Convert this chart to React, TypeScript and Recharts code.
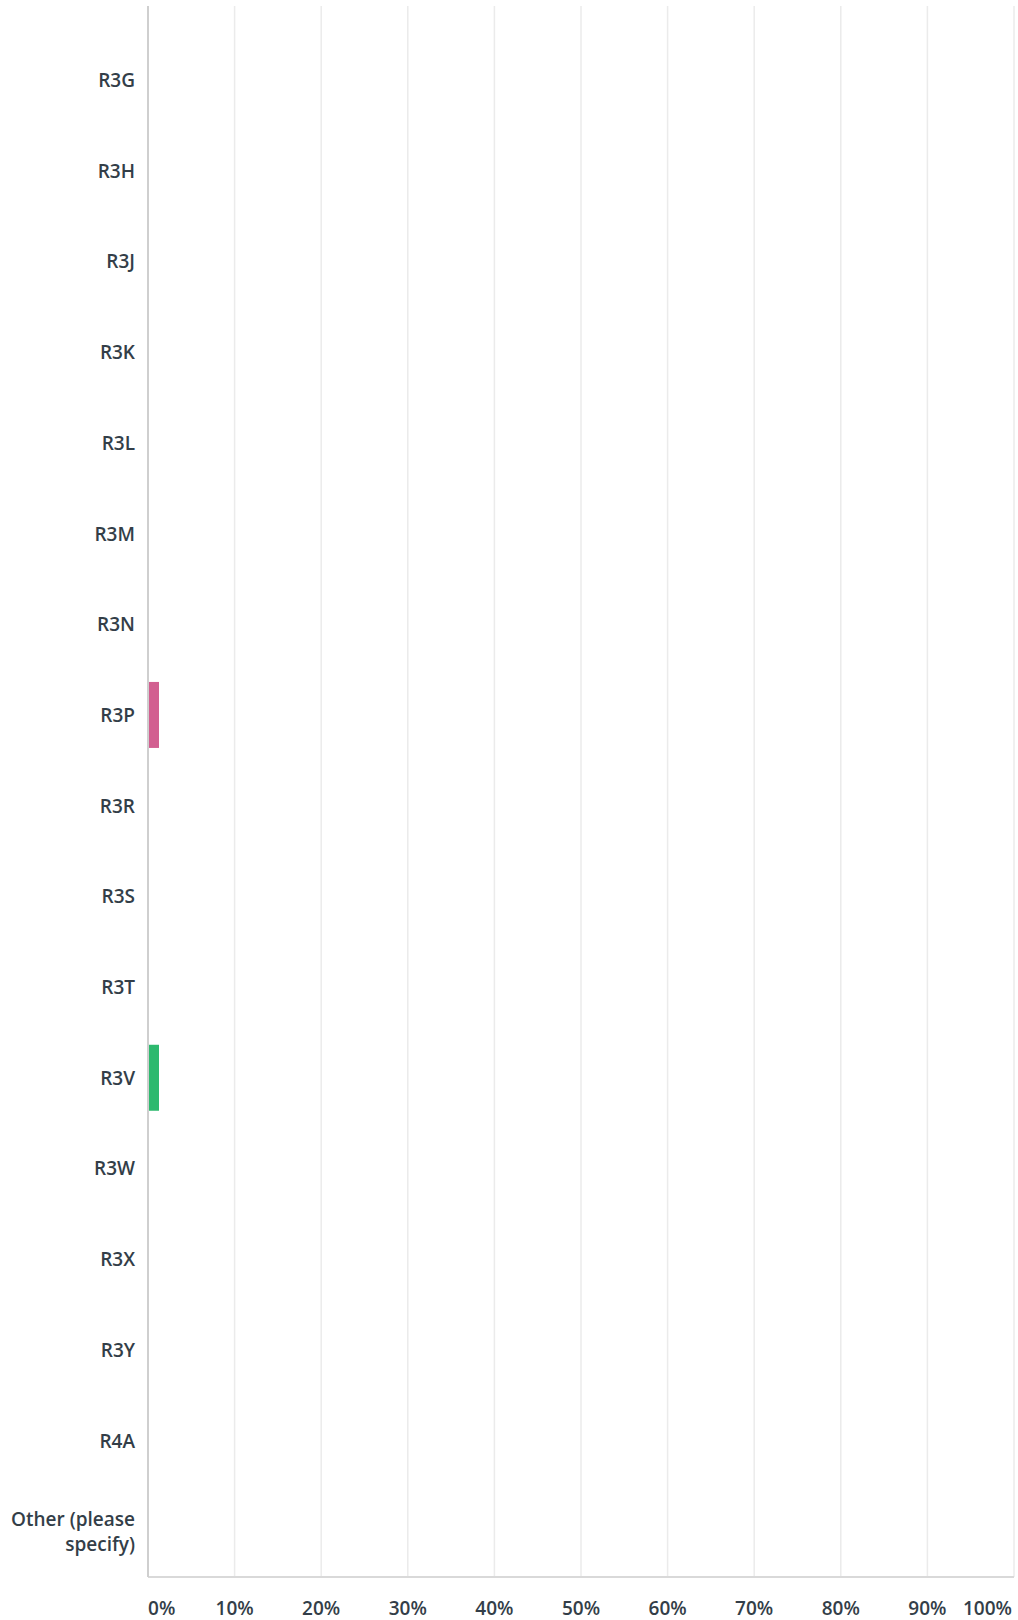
import { BarChart, Bar, XAxis, YAxis, CartesianGrid, Cell } from 'recharts';

const categories = [
  'R3G', 'R3H', 'R3J', 'R3K', 'R3L', 'R3M', 'R3N', 'R3P', 'R3R',
  'R3S', 'R3T', 'R3V', 'R3W', 'R3X', 'R3Y', 'R4A', 'Other (please specify)',
];
const values = [0, 0, 0, 0, 0, 0, 0, 1.27, 0, 0, 0, 1.27, 0, 0, 0, 0, 0];
const barColors = [
  '#00bf6f', '#507cb6', '#f9be00', '#6bc8cd', '#ff8b4f', '#7d5ba6', '#dd6b9d', '#d25f90',
  '#b4c31d', '#4cb2e2', '#e74e5b', '#2db96e', '#f9be00', '#6bc8cd', '#ff8b4f', '#7d5ba6', '#dd6b9d',
];
const xTicks = [0, 10, 20, 30, 40, 50, 60, 70, 80, 90, 100];

const data = categories.map((name, i) => ({ name, value: values[i] }));

const FONT = '"Open Sans", sans-serif';
const TEXT = '#333e48';

function wrap(label: string, max: number): string[] {
  const words = label.split(' ');
  const lines: string[] = [];
  let cur = '';
  for (const w of words) {
    if (cur && (cur + ' ' + w).length > max) {
      lines.push(cur);
      cur = w;
    } else {
      cur = cur ? cur + ' ' + w : w;
    }
  }
  if (cur) lines.push(cur);
  return lines;
}

const CategoryTick = (props: any) => {
  const { x, y, payload } = props;
  const lines = wrap(payload.value, 13);
  const lh = 25;
  const start = -((lines.length - 1) * lh) / 2;
  return (
    <text x={x} y={y} textAnchor="end" fill={TEXT} fontFamily={FONT} fontSize={19} fontWeight={600}>
      {lines.map((l, i) => (
        <tspan key={i} x={x} y={y + start + i * lh} dy="0.35em">
          {l}
        </tspan>
      ))}
    </text>
  );
};

const PercentTick = (props: any) => {
  const { x, y, payload } = props;
  let anchor = 'middle';
  let tx = x;
  if (payload.value === 0) anchor = 'start';
  if (payload.value === 100) {
    anchor = 'end';
    tx = x - 2;
  }
  return (
    <text x={tx} y={y} dy={30} textAnchor={anchor} fill={TEXT} fontFamily={FONT} fontSize={19} fontWeight={600}>
      {payload.value}%
    </text>
  );
};

export default function App() {
  return (
    <div style={{ position: 'absolute', left: 0, top: 0, width: 1018, height: 1620, background: '#fff' }}>
      <BarChart
        width={1018}
        height={1620}
        data={data}
        layout="vertical"
        margin={{ top: 6, right: 4, bottom: 0, left: 0 }}
      >
        <CartesianGrid horizontal={false} stroke="#ebebeb" strokeWidth={1.5} />
        <XAxis
          type="number"
          domain={[0, 100]}
          ticks={xTicks}
          height={43}
          axisLine={{ stroke: '#d9d9d9', strokeWidth: 2 }}
          tickLine={false}
          tick={<PercentTick />}
          interval={0}
        />
        <YAxis
          type="category"
          dataKey="name"
          width={148}
          padding={{ top: 29, bottom: 0 }}
          axisLine={{ stroke: '#cfcfcf', strokeWidth: 2 }}
          tickLine={false}
          tickMargin={7}
          tick={<CategoryTick />}
          interval={0}
        />
        <Bar dataKey="value" barSize={66} isAnimationActive={false}>
          {data.map((d, i) => (
            <Cell key={d.name} fill={barColors[i]} />
          ))}
        </Bar>
      </BarChart>
    </div>
  );
}
